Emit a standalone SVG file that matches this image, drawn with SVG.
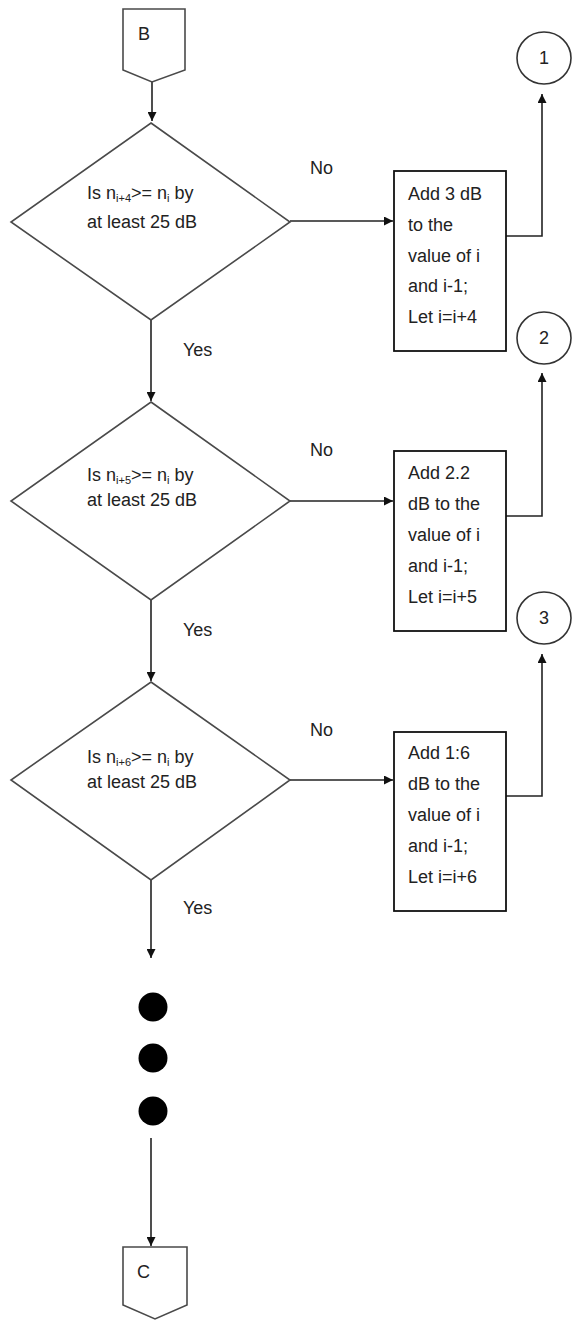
<svg xmlns="http://www.w3.org/2000/svg" width="575" height="1322" viewBox="0 0 575 1322">
<style>
text{font-family:"Liberation Sans",Arial,sans-serif;font-size:18px;fill:#222}
.sub{font-size:11px}
.dia{fill:#fff;stroke:#4a4a4a;stroke-width:1.6}
.box{fill:#fff;stroke:#111;stroke-width:1.8}
.circ{fill:#fff;stroke:#333;stroke-width:1.6}
.conn{fill:none;stroke:#222;stroke-width:1.6}
.c{text-anchor:middle}
</style>
<defs>
<marker id="ah" viewBox="0 0 10 10" refX="10" refY="5" markerWidth="9" markerHeight="9" markerUnits="userSpaceOnUse" orient="auto">
<path d="M0,0 L10,5 L0,10 z" fill="#111"/>
</marker>
</defs>
<g id="connectors">
<line class="conn" x1="152" y1="82" x2="152" y2="121" marker-end="url(#ah)"/>
<line class="conn" x1="290" y1="221" x2="393" y2="221" marker-end="url(#ah)"/>
<polyline class="conn" points="506,236 542,236 542,94" marker-end="url(#ah)"/>
<line class="conn" x1="151" y1="320" x2="151" y2="401" marker-end="url(#ah)"/>
<line class="conn" x1="290" y1="501" x2="393" y2="501" marker-end="url(#ah)"/>
<polyline class="conn" points="506,516 542,516 542,373" marker-end="url(#ah)"/>
<line class="conn" x1="151" y1="600" x2="151" y2="681" marker-end="url(#ah)"/>
<line class="conn" x1="290" y1="780" x2="393" y2="780" marker-end="url(#ah)"/>
<polyline class="conn" points="506,796 542,796 542,654" marker-end="url(#ah)"/>
<line class="conn" x1="151" y1="880" x2="151" y2="958" marker-end="url(#ah)"/>
<line class="conn" x1="151" y1="1138" x2="151" y2="1246" marker-end="url(#ah)"/>
<text x="310" y="174">No</text>
<text x="310" y="456">No</text>
<text x="310" y="736">No</text>
<text x="183" y="356">Yes</text>
<text x="183" y="636">Yes</text>
<text x="183" y="914">Yes</text>
</g>
<g id="B">
<path class="dia" d="M123,9 L185,9 L185,70 L152,82 L123,70 Z"/>
<text x="138" y="40">B</text>
</g>
<g id="decision1">
<polygon class="dia" points="151,123 290,222 151,320 11,222"/>
<text x="87" y="199">Is n<tspan class="sub" dy="3">i+4</tspan><tspan dy="-3">&gt;= n</tspan><tspan class="sub" dy="3">i</tspan><tspan dy="-3"> by</tspan></text>
<text x="87" y="228">at least 25 dB</text>
</g>
<g id="process1">
<rect class="box" x="394" y="171" width="112" height="180"/>
<text x="408" y="200">Add 3 dB</text>
<text x="408" y="231">to the</text>
<text x="408" y="262">value of i</text>
<text x="408" y="292">and i-1;</text>
<text x="408" y="323">Let i=i+4</text>
</g>
<g id="connector1">
<ellipse class="circ" cx="544" cy="58" rx="27" ry="26"/>
<text class="c" x="544" y="64">1</text>
</g>
<g id="decision2">
<polygon class="dia" points="151,402 290,501 151,600 11,501"/>
<text x="87" y="481">Is n<tspan class="sub" dy="3">i+5</tspan><tspan dy="-3">&gt;= n</tspan><tspan class="sub" dy="3">i</tspan><tspan dy="-3"> by</tspan></text>
<text x="87" y="506">at least 25 dB</text>
</g>
<g id="process2">
<rect class="box" x="394" y="451" width="112" height="180"/>
<text x="408" y="479">Add 2.2</text>
<text x="408" y="510">dB to the</text>
<text x="408" y="541">value of i</text>
<text x="408" y="572">and i-1;</text>
<text x="408" y="603">Let i=i+5</text>
</g>
<g id="connector2">
<ellipse class="circ" cx="544" cy="338" rx="27" ry="26"/>
<text class="c" x="544" y="344">2</text>
</g>
<g id="decision3">
<polygon class="dia" points="151,682 290,780 151,880 11,780"/>
<text x="87" y="763">Is n<tspan class="sub" dy="3">i+6</tspan><tspan dy="-3">&gt;= n</tspan><tspan class="sub" dy="3">i</tspan><tspan dy="-3"> by</tspan></text>
<text x="87" y="788">at least 25 dB</text>
</g>
<g id="process3">
<rect class="box" x="394" y="732" width="112" height="179"/>
<text x="408" y="759">Add 1:6</text>
<text x="408" y="790">dB to the</text>
<text x="408" y="821">value of i</text>
<text x="408" y="852">and i-1;</text>
<text x="408" y="883">Let i=i+6</text>
</g>
<g id="connector3">
<ellipse class="circ" cx="544" cy="618" rx="27" ry="26"/>
<text class="c" x="544" y="624">3</text>
</g>
<g id="dots">
<circle cx="153" cy="1007" r="14.5" fill="#000"/>
<circle cx="153" cy="1058" r="14.5" fill="#000"/>
<circle cx="153" cy="1111" r="14.5" fill="#000"/>
</g>
<g id="C">
<path class="dia" d="M123,1247 L187,1247 L187,1305 L155,1319 L123,1305 Z"/>
<text x="137" y="1278">C</text>
</g>
</svg>
